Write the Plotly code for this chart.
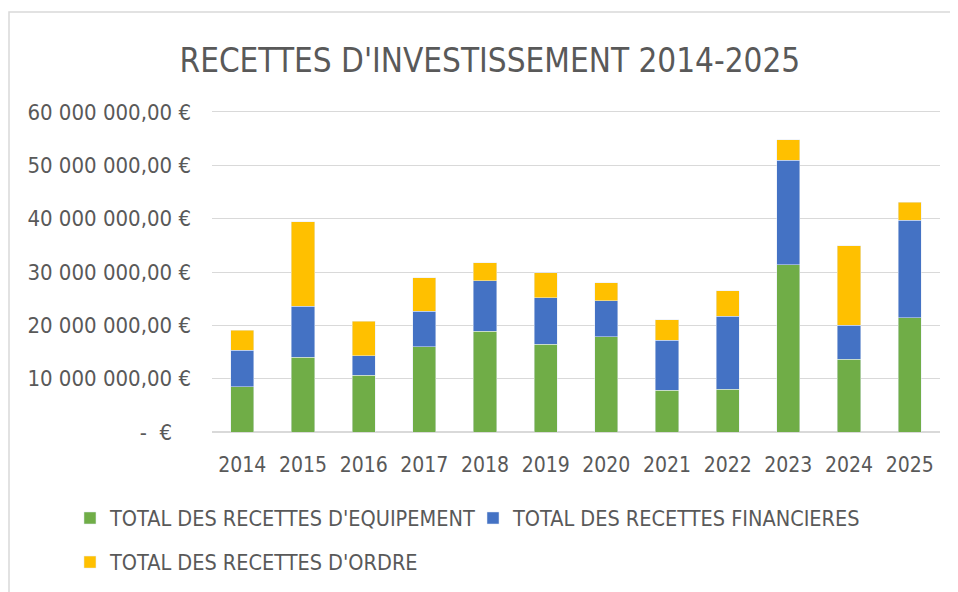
import plotly.graph_objects as go

years = ["2014", "2015", "2016", "2017", "2018", "2019", "2020", "2021", "2022", "2023", "2024", "2025"]
equipement = [8.49e6, 14.04e6, 10.67e6, 15.98e6, 18.85e6, 16.42e6, 17.9e6, 7.8e6, 8.0e6, 31.34e6, 13.6e6, 21.41e6]
financieres = [6.8e6, 9.56e6, 3.63e6, 6.68e6, 9.55e6, 8.78e6, 6.7e6, 9.37e6, 13.66e6, 19.6e6, 6.44e6, 18.29e6]
ordre = [3.81e6, 15.85e6, 6.49e6, 6.24e6, 3.37e6, 4.7e6, 3.37e6, 3.87e6, 4.81e6, 3.86e6, 14.92e6, 3.37e6]
tick_vals = [0, 10e6, 20e6, 30e6, 40e6, 50e6, 60e6]
tick_text = ["-  €   ", "10 000 000,00 €", "20 000 000,00 €", "30 000 000,00 €",
             "40 000 000,00 €", "50 000 000,00 €", "60 000 000,00 €"]

FONT = "DejaVu Sans Condensed, DejaVu Sans, sans-serif"
GRAY = "#595959"

fig = go.Figure()
fig.add_trace(go.Bar(x=years, y=equipement, name="TOTAL DES RECETTES D'EQUIPEMENT",
                     marker_color="#70ad47", legend="legend", showlegend=True))
fig.add_trace(go.Bar(x=years, y=financieres, name="TOTAL DES RECETTES FINANCIERES",
                     marker_color="#4472c4", legend="legend2", showlegend=True))
fig.add_trace(go.Bar(x=years, y=ordre, name="TOTAL DES RECETTES D'ORDRE",
                     marker_color="#ffc000", legend="legend3", showlegend=True))

leg = dict(orientation="h", xref="container", yref="container", bgcolor="rgba(0,0,0,0)",
           xanchor="left", yanchor="middle", font=dict(size=21.5, color=GRAY), itemwidth=30)

fig.update_layout(
    showlegend=True,
    barmode="stack",
    bargap=0.62,
    width=958, height=592,
    margin=dict(l=204, r=26, t=104, b=168),
    paper_bgcolor="white", plot_bgcolor="white",
    font=dict(family=FONT, color=GRAY, size=22),
    title=dict(text="RECETTES D'INVESTISSEMENT 2014-2025", x=0.503, xanchor="center",
               y=0.912, yanchor="middle", yref="container",
               font=dict(family=FONT, size=33, color=GRAY)),
    xaxis=dict(showgrid=False, showline=True, mirror=True, linecolor="#d9d9d9", ticks="",
               ticklabelstandoff=14, tickfont=dict(size=21, color=GRAY)),
    yaxis=dict(range=[0, 60e6], tickvals=tick_vals, ticktext=tick_text,
               gridcolor="#d9d9d9", gridwidth=1, zeroline=True, zerolinecolor="#d9d9d9",
               showline=False, ticks="", ticklabelstandoff=20,
               tickfont=dict(size=22, color=GRAY)),
    legend=dict(leg, x=0.0647, y=0.1385),
    legend2=dict(leg, x=0.4854, y=0.1385),
    legend3=dict(leg, x=0.0647, y=0.064),
    shapes=[dict(type="rect", xref="paper", yref="paper",
                 x0=-203/728, x1=770/728, y0=-0.6, y1=420/320,
                 line=dict(color="#d9d9d9", width=1.5), fillcolor="rgba(0,0,0,0)", layer="below")],
)

fig.write_html("out.html")
